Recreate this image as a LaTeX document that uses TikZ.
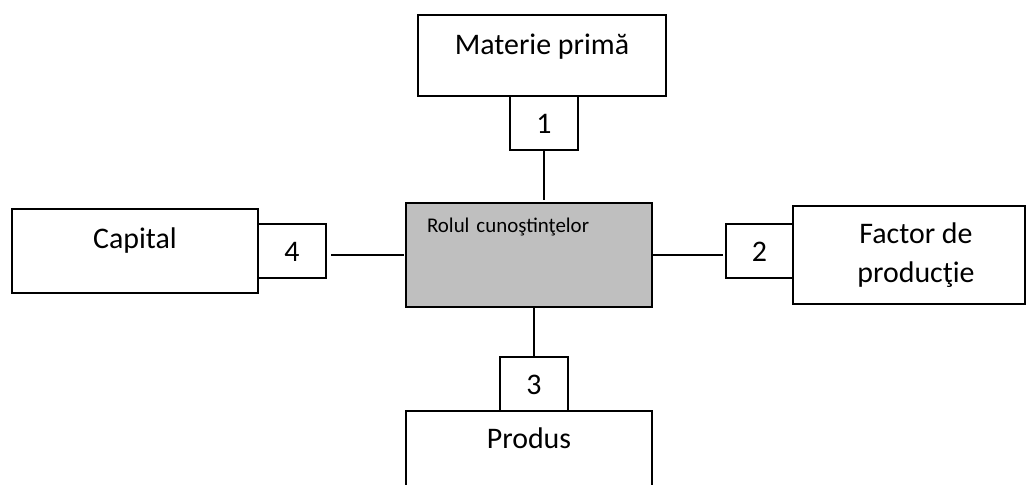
\documentclass[tikz,border=0pt]{standalone}
\usepackage{fontspec}
\setmainfont{Carlito}
\usetikzlibrary{positioning}

\begin{document}
\begin{tikzpicture}[
    x=1bp,y=-1bp,
    labelbox/.style={
      rectangle,draw,line width=1.6bp,
      inner xsep=0pt,inner ysep=0pt,outer sep=0pt,
      font=\fontsize{30}{39}\selectfont
    },
    numbox/.style={
      labelbox,
      minimum width=68bp,
      text height=38bp,text depth=16bp
    },
    rolebox/.style={
      labelbox,
      fill=gray!50,
      font=\fontsize{21}{25}\selectfont
    },
    link/.style={
      line width=1.6bp
    }]

      \clip (0,0) rectangle (1027,485);

      % outer boxes
      \node[labelbox,anchor=north,minimum width=248bp,text height=40bp,text depth=41bp] (mp) at (542,15) {Materie primă};
      \node[labelbox,anchor=north,minimum width=246bp,text height=40bp,text depth=44bp] (cap) at (135,209) {Capital};
      \node[labelbox,anchor=north,minimum width=232bp,minimum height=98bp,align=center] (fac) at (909,206) {\hspace*{14bp}Factor de\\\hspace*{14bp}producţie};
      \node[labelbox,anchor=north,minimum width=246bp,text height=37bp,text depth=80bp] (prod) at (529,411) {Produs};

      \node[rolebox,anchor=north west,minimum width=246bp,inner xsep=21bp,text width=204bp,align=left,
            text height=30bp,text depth=74bp] (role) at (406,203) {Rolul cunoştinţelor};

      % numbered boxes
      \node[numbox,below=0pt of mp,xshift=2bp] (n1) {1};
      \node[numbox,left=0pt of fac,yshift=4bp,minimum width=67bp] (n2) {2};
      \node[numbox,above=0pt of prod,xshift=5bp] (n3) {3};
      \node[numbox,right=0pt of cap] (n4) {4};

      \draw[link,shorten >=3bp] (n1) -- (n1 |- role.north);
      \draw[link,shorten >=3bp] (role) -- (role -| n2.west);
      \draw[link] (role.south -| n3) -- (n3);
      \draw[link,shorten <=5bp,shorten >=2bp] (n4.east |- role) -- (role);
  \end{tikzpicture}
\end{document}
